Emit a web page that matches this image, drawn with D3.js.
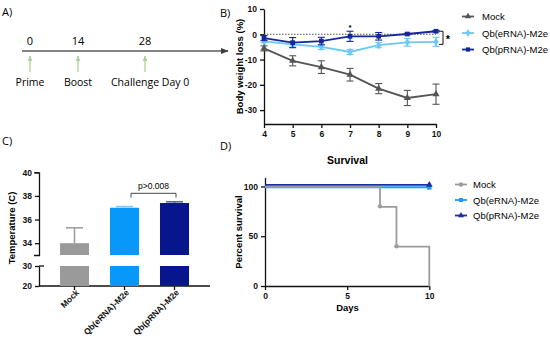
<!DOCTYPE html>
<html>
<head>
<meta charset="utf-8">
<script src="https://d3js.org/d3.v7.min.js"></script>
<style>
  body { margin: 0; background: #fff; }
  svg { display: block; font-family: "Liberation Sans", Arial, sans-serif; }
  .tick text { font-family: "Liberation Sans", Arial, sans-serif; font-size: 8.5px; font-weight: bold; fill: #111; }
  .axis path, .axis line { stroke: #111; stroke-width: 1.3; }
</style>
</head>
<body>
<div id="chart"></div>
<script>
// ---- data ----
// A) timeline
var timelineDays = [0, 14, 28];
var timelineEvents = ['Prime', 'Boost', 'Challenge Day 0'];

// B) body weight loss
var bwDays = [4, 5, 6, 7, 8, 9, 10];
var bwSeries = ['Mock', 'Qb(eRNA)-M2e', 'Qb(pRNA)-M2e'];
var bwMock = [-5.6, -10.5, -13.0, -16.0, -21.5, -25.2, -23.7];
var bwMockErr = [1.0, 2.0, 2.5, 2.5, 2.0, 3.0, 4.0];
var bwERNA = [-2.8, -4.0, -5.0, -7.0, -4.3, -3.2, -3.0];
var bwERNAErr = [0.5, 1.0, 1.0, 1.0, 1.0, 1.5, 1.8];
var bwPRNA = [-1.5, -3.3, -2.7, -0.8, -0.8, 0.1, 1.2];
var bwPRNAErr = [1.0, 2.0, 1.5, 2.0, 1.5, 0.3, 0.3];
var bwTicksY = [10, 0, -10, -20, -30];

// C) temperature
var tempGroups = ['Mock', 'Qb(eRNA)-M2e', 'Qb(pRNA)-M2e'];
var tempMean = [34.0, 37.0, 37.4];
var tempErr = [1.3, 0.1, 0.1];
var tempTicksTop = [34, 36, 38, 40];
var tempTicksBottom = [20, 30];

// D) survival
var survSeries = ['Mock', 'Qb(eRNA)-M2e', 'Qb(pRNA)-M2e'];
var survMockDays = [0, 7, 8, 10];
var survMockPct = [100, 80, 40, 0];
var survERNADays = [0, 10];
var survERNAPct = [100, 100];
var survPRNADays = [0, 10];
var survPRNAPct = [100, 100];
var survTicksX = [0, 5, 10];
var survTicksY = [0, 50, 100];

var plain = function(d) { return String(d); };

var svg = d3.select('#chart').append('svg')
  .attr('width', 550).attr('height', 344);

// panel letters
var letters = [['A)', 2, 16], ['B)', 220, 17], ['C)', 2, 145], ['D)', 220, 150]];
svg.selectAll('.letter').data(letters).enter().append('text')
  .attr('x', function(d) { return d[1]; })
  .attr('y', function(d) { return d[2]; })
  .style('font-family', '"Open Sans", sans-serif')
  .style('font-size', '11px')
  .text(function(d) { return d[0]; });

// ---------- A) timeline ----------
var defs = svg.append('defs');
defs.append('marker').attr('id', 'arrowGray')
  .attr('viewBox', '0 0 10 10').attr('refX', 9).attr('refY', 5)
  .attr('markerWidth', 5).attr('markerHeight', 5).attr('orient', 'auto')
  .append('path').attr('d', 'M0,1 L10,5 L0,9 z').attr('fill', '#404040');
defs.append('marker').attr('id', 'arrowGreen')
  .attr('viewBox', '0 0 10 10').attr('refX', 9).attr('refY', 5)
  .attr('markerWidth', 5).attr('markerHeight', 5).attr('orient', 'auto')
  .append('path').attr('d', 'M0,1 L10,5 L0,9 z').attr('fill', '#a9d18e');

var xA = d3.scaleLinear().domain(timelineDays).range([30, 78, 145]);
var gA = svg.append('g').style('font-family', '"Open Sans", sans-serif');
gA.append('line')
  .attr('x1', 22).attr('x2', 228).attr('y1', 51).attr('y2', 51)
  .attr('stroke', '#5a5a5a').attr('stroke-width', 1.6)
  .attr('marker-end', 'url(#arrowGray)');
gA.selectAll('.day').data(timelineDays).enter().append('text')
  .attr('x', function(d) { return xA(d); })
  .attr('y', 45).attr('text-anchor', 'middle')
  .style('font-size', '11px')
  .text(function(d) { return d; });
gA.selectAll('.garrow').data(timelineDays).enter().append('line')
  .attr('x1', function(d) { return xA(d); })
  .attr('x2', function(d) { return xA(d); })
  .attr('y1', 72).attr('y2', 56)
  .attr('stroke', '#a9d18e').attr('stroke-width', 1.2)
  .attr('marker-end', 'url(#arrowGreen)');
gA.selectAll('.ev').data(timelineEvents).enter().append('text')
  .attr('x', function(d, i) { return i < 2 ? xA(timelineDays[i]) : 111; })
  .attr('y', 86)
  .attr('text-anchor', function(d, i) { return i < 2 ? 'middle' : 'start'; })
  .style('font-size', '10.5px')
  .text(function(d) { return d; });

// ---------- B) body weight ----------
var xB = d3.scaleLinear().domain([4, 10]).range([264, 436]);
var yB = d3.scaleLinear().domain([-35.5, 10]).range([124, 9]);
var colB = ['#555555', '#6cc8f4', '#14289c'];
var symB = [d3.symbolTriangle, d3.symbolDiamond, d3.symbolSquare];
var gB = svg.append('g');

gB.append('g').attr('class', 'axis')
  .attr('transform', 'translate(0,' + yB(-35.5) + ')')
  .call(d3.axisBottom(xB).tickValues(bwDays).tickFormat(plain).tickSize(4).tickSizeOuter(0));
gB.append('g').attr('class', 'axis')
  .attr('transform', 'translate(' + xB(4) + ',0)')
  .call(d3.axisLeft(yB).tickValues(bwTicksY).tickFormat(plain).tickSize(4).tickSizeOuter(0));

gB.append('text')
  .attr('transform', 'translate(243,' + (yB(-12.75)) + ') rotate(-90)')
  .attr('text-anchor', 'middle')
  .style('font-size', '9.5px').style('font-weight', 'bold')
  .text('Body weight loss (%)');

// dotted zero line
gB.append('line')
  .attr('x1', xB(4)).attr('x2', xB(10)).attr('y1', yB(0)).attr('y2', yB(0))
  .attr('stroke', '#555').attr('stroke-dasharray', '1.5,1.5').attr('stroke-width', 1);

var bwVals = [bwMock, bwERNA, bwPRNA];
var bwErrs = [bwMockErr, bwERNAErr, bwPRNAErr];
var lineB = d3.line()
  .x(function(d) { return xB(d[0]); })
  .y(function(d) { return yB(d[1]); });

bwVals.forEach(function(vals, s) {
  var pts = bwDays.map(function(d, i) { return [d, vals[i], bwErrs[s][i]]; });
  var g = gB.append('g');
  g.append('path').datum(pts).attr('d', lineB)
    .attr('fill', 'none').attr('stroke', colB[s]).attr('stroke-width', 1.8);
  var eb = g.selectAll('.eb').data(pts).enter().append('g')
    .attr('stroke', colB[s]).attr('stroke-width', 1.1);
  eb.append('line')
    .attr('x1', function(d) { return xB(d[0]); }).attr('x2', function(d) { return xB(d[0]); })
    .attr('y1', function(d) { return yB(d[1] - d[2]); }).attr('y2', function(d) { return yB(d[1] + d[2]); });
  eb.append('line')
    .attr('x1', function(d) { return xB(d[0]) - 3.5; }).attr('x2', function(d) { return xB(d[0]) + 3.5; })
    .attr('y1', function(d) { return yB(d[1] + d[2]); }).attr('y2', function(d) { return yB(d[1] + d[2]); });
  eb.append('line')
    .attr('x1', function(d) { return xB(d[0]) - 3.5; }).attr('x2', function(d) { return xB(d[0]) + 3.5; })
    .attr('y1', function(d) { return yB(d[1] - d[2]); }).attr('y2', function(d) { return yB(d[1] - d[2]); });
  g.selectAll('.pt').data(pts).enter().append('path')
    .attr('d', d3.symbol().type(symB[s]).size(22))
    .attr('transform', function(d) { return 'translate(' + xB(d[0]) + ',' + yB(d[1]) + ')'; })
    .attr('fill', colB[s]);
});

// significance marks
gB.append('text').attr('x', xB(7)).attr('y', yB(1.8))
  .attr('text-anchor', 'middle').style('font-size', '8px').style('font-weight', 'bold').text('*');
gB.append('path')
  .attr('d', 'M' + (xB(10) + 3) + ',' + yB(1.2) + 'H' + (xB(10) + 7) + 'V' + yB(-4) + 'H' + (xB(10) + 3))
  .attr('fill', 'none').attr('stroke', '#111').attr('stroke-width', 1);
gB.append('text').attr('x', xB(10) + 12).attr('y', yB(-3.6))
  .attr('text-anchor', 'middle').style('font-size', '11px').style('font-weight', 'bold').text('*');

// legend B
var legB = gB.selectAll('.legB').data(bwSeries).enter().append('g')
  .attr('transform', function(d, i) { return 'translate(462,' + (16.5 + i * 16.5) + ')'; });
legB.append('line').attr('x1', 0).attr('x2', 12)
  .attr('stroke', function(d, i) { return colB[i]; }).attr('stroke-width', 1.8);
legB.append('path')
  .attr('d', function(d, i) { return d3.symbol().type(symB[i]).size(18)(); })
  .attr('transform', 'translate(6,0)')
  .attr('fill', function(d, i) { return colB[i]; });
legB.append('text').attr('x', 20).attr('y', 3.5)
  .style('font-size', '9.5px').text(function(d) { return d; });

// ---------- C) temperature (broken axis) ----------
var xC = d3.scaleBand().domain(tempGroups).range([39, 210]).paddingInner(0.42).paddingOuter(0.42);
var yTop = d3.scaleLinear().domain([33, 40]).range([255, 172.3]);
var yBot = d3.scaleLinear().domain([20, 30]).range([286, 266]);
var colC = ['#9a9a9a', '#0898fa', '#07168c'];
var errC = ['#9a9a9a', '#7cc6fb', '#4a57ad'];
var gC = svg.append('g');

gC.append('g').attr('class', 'axis')
  .attr('transform', 'translate(39,0)')
  .call(d3.axisLeft(yTop).tickValues(tempTicksTop).tickFormat(plain).tickSize(4).tickSizeOuter(5));
gC.append('g').attr('class', 'axis')
  .attr('transform', 'translate(39,0)')
  .call(d3.axisLeft(yBot).tickValues(tempTicksBottom).tickFormat(plain).tickSize(4).tickSizeOuter(0));
// break cap at 30
gC.append('line').attr('x1', 39).attr('x2', 44).attr('y1', yBot(30)).attr('y2', yBot(30))
  .attr('stroke', '#111').attr('stroke-width', 1.3);

var xAxisC = gC.append('g').attr('class', 'axis')
  .attr('transform', 'translate(0,286)')
  .call(d3.axisBottom(xC).tickSize(4).tickSizeOuter(0));
xAxisC.select('.domain').attr('d', 'M39,0H210');
xAxisC.selectAll('.tick text')
  .attr('text-anchor', 'end')
  .attr('transform', 'translate(3,5) rotate(-45)')
  .attr('dy', '0.35em').attr('y', 0).attr('x', 0);

// bars: top and bottom segments
gC.selectAll('.barTop').data(tempMean).enter().append('rect')
  .attr('x', function(d, i) { return xC(tempGroups[i]); })
  .attr('width', xC.bandwidth())
  .attr('y', function(d) { return yTop(d); })
  .attr('height', function(d) { return yTop(33) - yTop(d); })
  .attr('fill', function(d, i) { return colC[i]; });
gC.selectAll('.barBot').data(tempMean).enter().append('rect')
  .attr('x', function(d, i) { return xC(tempGroups[i]); })
  .attr('width', xC.bandwidth())
  .attr('y', yBot(30))
  .attr('height', yBot(20) - yBot(30))
  .attr('fill', function(d, i) { return colC[i]; });
// error bars (upper only)
tempMean.forEach(function(m, i) {
  var cx = xC(tempGroups[i]) + xC.bandwidth() / 2;
  gC.append('line').attr('x1', cx).attr('x2', cx)
    .attr('y1', yTop(m)).attr('y2', yTop(m + tempErr[i]))
    .attr('stroke', errC[i]).attr('stroke-width', 1.5);
  gC.append('line').attr('x1', cx - 8.5).attr('x2', cx + 8.5)
    .attr('y1', yTop(m + tempErr[i])).attr('y2', yTop(m + tempErr[i]))
    .attr('stroke', errC[i]).attr('stroke-width', 1.5);
});
// p value bracket
var bx1 = xC(tempGroups[1]) + xC.bandwidth() / 2 + 6.5;
var bx2 = xC(tempGroups[2]) + xC.bandwidth() / 2 + 1.5;
gC.append('path')
  .attr('d', 'M' + bx1 + ',197.5V193.3H' + bx2 + 'V197.5')
  .attr('fill', 'none').attr('stroke', '#333').attr('stroke-width', 0.9);
gC.append('text').attr('x', (bx1 + bx2) / 2).attr('y', 189)
  .attr('text-anchor', 'middle').style('font-size', '8.5px').text('p>0.008');

gC.append('text')
  .attr('transform', 'translate(15,228) rotate(-90)')
  .attr('text-anchor', 'middle')
  .style('font-size', '9.5px').style('font-weight', 'bold')
  .text('Temperature (C)');

// ---------- D) survival ----------
var xD = d3.scaleLinear().domain([0, 10]).range([265, 429.3]);
var yD = d3.scaleLinear().domain([0, 109]).range([286, 177.5]);
var colD = ['#9c9c9c', '#1e9bf8', '#1c2ea0'];
var gD = svg.append('g');

gD.append('g').attr('class', 'axis')
  .attr('transform', 'translate(0,286)')
  .call(d3.axisBottom(xD).tickValues(survTicksX).tickFormat(plain).tickSize(4).tickSizeOuter(0));
gD.append('g').attr('class', 'axis')
  .attr('transform', 'translate(265,0)')
  .call(d3.axisLeft(yD).tickValues(survTicksY).tickFormat(plain).tickSize(4).tickSizeOuter(0));

gD.append('text').attr('x', 347.5).attr('y', 164)
  .attr('text-anchor', 'middle').style('font-size', '10.5px').style('font-weight', 'bold')
  .text('Survival');
gD.append('text').attr('x', 347.5).attr('y', 311)
  .attr('text-anchor', 'middle').style('font-size', '9.5px').style('font-weight', 'bold')
  .text('Days');
gD.append('text')
  .attr('transform', 'translate(242,232) rotate(-90)')
  .attr('text-anchor', 'middle')
  .style('font-size', '9.5px').style('font-weight', 'bold')
  .text('Percent survival');

var stepLine = d3.line().curve(d3.curveStepAfter)
  .x(function(d) { return xD(d[0]); })
  .y(function(d) { return yD(d[1]); });
function zipD(days, pct) { return days.map(function(d, i) { return [d, pct[i]]; }); }
var survData = [zipD(survMockDays, survMockPct), zipD(survERNADays, survERNAPct), zipD(survPRNADays, survPRNAPct)];
var survOffset = [0.5, 0.8, -1.6];
var drawOrder = [1, 0, 2];

drawOrder.forEach(function(s) {
  gD.append('path').datum(survData[s]).attr('d', stepLine)
    .attr('transform', 'translate(0,' + survOffset[s] + ')')
    .attr('fill', 'none').attr('stroke', colD[s]).attr('stroke-width', 1.8);
});
// mock event markers
gD.selectAll('.mk').data(survData[0].slice(1, 3)).enter().append('circle')
  .attr('cx', function(d) { return xD(d[0]); })
  .attr('cy', function(d) { return yD(d[1]); })
  .attr('r', 2.2).attr('fill', colD[0]);
// end markers
gD.append('path').attr('d', d3.symbol().type(d3.symbolSquare).size(20))
  .attr('transform', 'translate(' + xD(10) + ',' + (yD(100) + 1) + ')').attr('fill', colD[1]);
gD.append('path').attr('d', d3.symbol().type(d3.symbolTriangle).size(20))
  .attr('transform', 'translate(' + xD(10) + ',' + (yD(100) - 1.6) + ')').attr('fill', colD[2]);

var symD = [d3.symbolCircle, d3.symbolSquare, d3.symbolTriangle];
var legD = gD.selectAll('.legD').data(survSeries).enter().append('g')
  .attr('transform', function(d, i) { return 'translate(455,' + (184.5 + i * 15.5) + ')'; });
legD.append('line').attr('x1', 0).attr('x2', 12)
  .attr('stroke', function(d, i) { return colD[i]; }).attr('stroke-width', 1.8);
legD.append('path')
  .attr('d', function(d, i) { return d3.symbol().type(symD[i]).size(16)(); })
  .attr('transform', 'translate(6,0)')
  .attr('fill', function(d, i) { return colD[i]; });
legD.append('text').attr('x', 18).attr('y', 3.5)
  .style('font-size', '9.5px').text(function(d) { return d; });
</script>
</body>
</html>
